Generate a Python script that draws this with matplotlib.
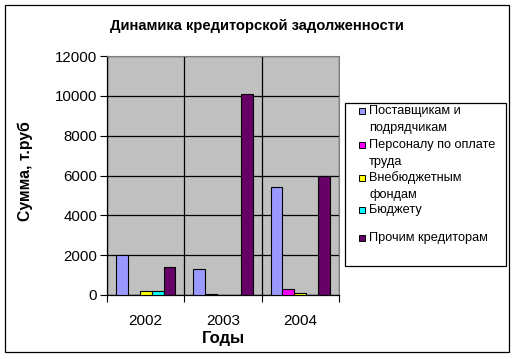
import numpy as np
import matplotlib
matplotlib.use('Agg')
import matplotlib.pyplot as plt
from matplotlib.patches import Rectangle

plt.rcParams['font.family'] = ['Liberation Sans', 'DejaVu Sans']

# data
years = ['2002', '2003', '2004']
series_names = ['Поставщикам и\nподрядчикам', 'Персоналу по оплате\nтруда',
                'Внебюджетным\nфондам', 'Бюджету', 'Прочим кредиторам']
suppliers = [2000, 1290, 5420]
personnel = [0, 30, 300]
extrabudget = [200, 0, 100]
budget = [200, 0, 0]
others = [1420, 10100, 6000]
colors = ['#9999FF', '#FF00FF', '#FFFF00', '#00FFFF', '#660066']

values = [suppliers, personnel, extrabudget, budget, others]

W, H = 514, 359
fig = plt.figure(figsize=(W / 100, H / 100), dpi=100)
fig.patch.set_facecolor('white')

# black border round the chart area
fig.patches.append(Rectangle((5 / W, 1 - 352 / H), 504 / W, 347 / H,
                             transform=fig.transFigure, fill=False,
                             edgecolor='black', lw=0.9))

left, right, top, bottom = 107, 339, 56, 295
ax = fig.add_axes([left / W, 1 - bottom / H, (right - left) / W, (bottom - top) / H])
ax.set_facecolor('#C0C0C0')

x = np.arange(len(years))
w = 1 / 6.5
for i, vals in enumerate(values):
    ax.bar(x + (i - 2) * w, vals, width=w, color=colors[i],
           edgecolor='black', linewidth=0.8, zorder=3)

ax.set_xlim(-0.5, 2.5)
ax.set_ylim(0, 12000)
ax.set_yticks(range(0, 12001, 2000))
ax.set_xticks([-0.5, 0.5, 1.5, 2.5])
ax.set_xticklabels([])
ax.set_xticks(x, minor=True)
ax.set_xticklabels(years, minor=True, fontsize=11)
ax.tick_params(axis='x', which='minor', length=0, pad=14)
ax.tick_params(axis='x', which='major', length=5, width=0.8, color='black')
ax.tick_params(axis='y', length=5, width=0.8, labelsize=10.8, pad=2)
ax.grid(True, which='major', color='black', linewidth=0.9, zorder=1)
ax.set_axisbelow(True)
for s in ['top', 'right']:
    ax.spines[s].set_color('#808080')
for s in ['left', 'bottom']:
    ax.spines[s].set_color('black')
    ax.spines[s].set_linewidth(0.9)

fig.text(257 / W, 1 - 26 / H, 'Динамика кредиторской задолженности',
         ha='center', va='center', fontsize=10.6, fontweight='bold')
fig.text(25 / W, 1 - 171 / H, 'Сумма, т.руб', rotation=90,
         ha='center', va='center', fontsize=11.3, fontweight='bold')
fig.text(223 / W, 1 - 338 / H, 'Годы', ha='center', va='center',
         fontsize=12, fontweight='bold')

# legend drawn by hand to get Excel-like entry layout
fig.patches.append(Rectangle((345 / W, 1 - 266 / H), 161 / W, 163 / H,
                             transform=fig.transFigure, facecolor='white',
                             edgecolor='black', lw=0.9))
entry_y = [111, 145, 178, 210, 238]
for name, c, yy in zip(series_names, colors, entry_y):
    fig.patches.append(Rectangle((359 / W, 1 - (yy + 3) / H), 6 / W, 6 / H,
                                 transform=fig.transFigure, facecolor=c,
                                 edgecolor='black', lw=0.7))
    for k, line in enumerate(name.split('\n')):
        fig.text(369 / W, 1 - (yy + 17 * k) / H, line, ha='left',
                 va='center', fontsize=9.2)

fig.savefig('out.png', dpi=100)
